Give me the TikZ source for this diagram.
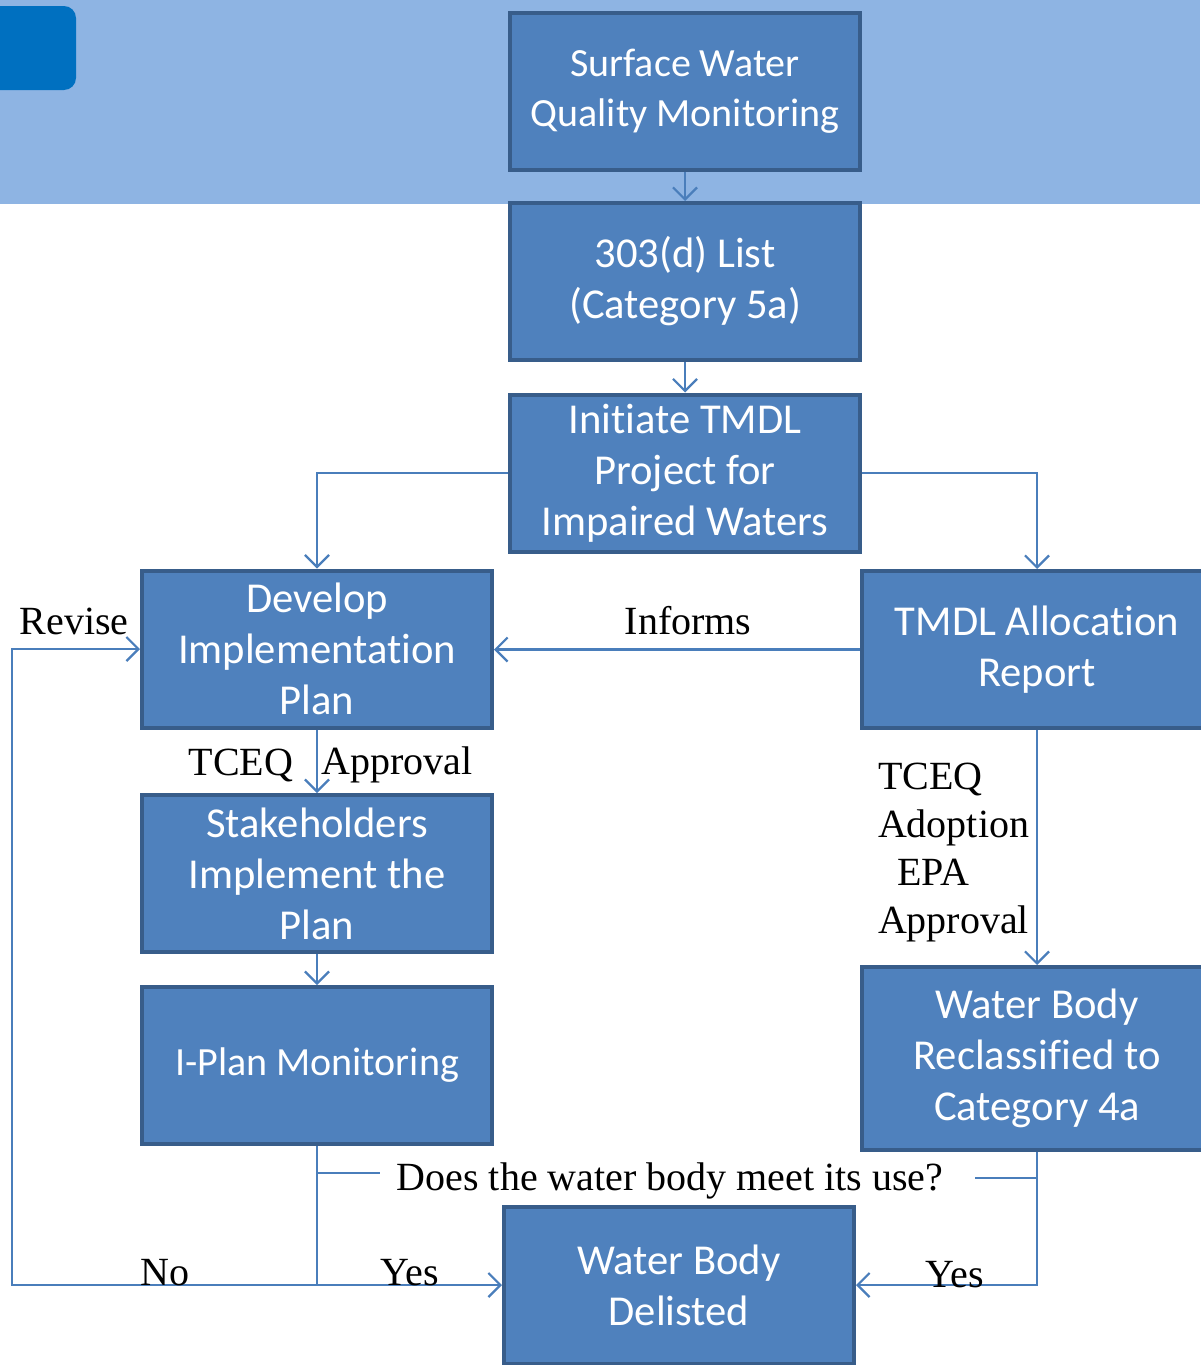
\documentclass[tikz,border=0pt]{standalone}
\usepackage{xcolor}
\usepackage{fontspec}
\setmainfont{Liberation Serif}
\newfontfamily\boxfont[Ligatures={NoCommon,NoRequired,NoContextual}]{Carlito}
\usepackage{tikz}
\usetikzlibrary{arrows.meta}

\definecolor{boxfill}{HTML}{4F81BD}
\definecolor{boxline}{HTML}{385D8A}
\definecolor{bandblue}{HTML}{8EB4E3}
\definecolor{tabblue}{HTML}{0070C0}
\definecolor{connblue}{HTML}{4A7EBB}

\begin{document}
\begin{tikzpicture}[x=1pt, y=-1pt,
                	    stage/.style = { rectangle, draw = boxline, line width = 4pt, fill = boxfill, text = white, align = center, minimum width = 350pt, minimum height = 157pt, inner sep = 0pt, font = \boxfont\fontsize{42.6}{51}\selectfont },
                	    smallstage/.style = { stage, font = \boxfont\fontsize{40}{50}\selectfont },
                		link/.style = { draw = connblue, line width = 2.2pt },
                		conn/.style = { link, -{Straight Barb[length=12pt, width=24pt, line width=2.2pt]} },
                		lbl/.style = { font = \fontsize{40}{48}\selectfont, inner sep=0pt, outer sep=0pt, yshift=-3pt },
            		]
            		    \useasboundingbox (0,0) rectangle (1200,1365);
            		    % header band
            		    \fill[bandblue] (0,0) rectangle (1200,204);
            		    \fill[tabblue, rounded corners=12pt] (-20,6) rectangle (76,90);

            		    % stages
            		    \node[smallstage] (surf) at (685,91) {Surface Water\\Quality Monitoring};
            		    \node[stage] (list) at (685,281.5) {303(d) List\\(Category 5a)};
            		    \node[stage] (init) at (685,473) {Initiate TMDL\\Project for\\Impaired Waters};
            		    \node[stage] (dev) at (317,649) {Develop\\Implementation\\Plan};
            		    \node[stage] (alloc) at (1037,649.5) {TMDL Allocation\\Report};
            		    \node[stage] (stake) at (317,873.5) {Stakeholders\\Implement the\\Plan};
            		    \node[smallstage] (imon) at (317,1065.5) {I-Plan Monitoring};
            		    \node[stage, minimum height = 183pt] (recl) at (1037,1058.5) {Water Body\\Reclassified to\\Category 4a};
            		    \node[stage] (delist) at (679,1285) {Water Body\\Delisted};

            		    % connectors
            		    \draw[conn] (surf) -- (list);
            		    \draw[conn] (list) -- (init);
            		    \draw[conn] (init.west) -| (dev.north);
            		    \draw[conn] (init.east) -| (alloc.north);
            		    \draw[conn] (alloc.west) -- (dev.east |- alloc.west);
            		    \draw[conn] (dev) -- (stake);
            		    \draw[conn] (stake) -- (imon);
            		    \draw[conn] (alloc) -- (recl);

            		    \coordinate (split) at (317,1285);
            		    \coordinate (loop) at (12,1285);
            		    \coordinate (askL) at (380,1173);
            		    \coordinate (askR) at (975,1178);
            		    \draw[link] (imon.south) -- (split);
            		    \draw[conn] (split) -- (delist.west);
            		    \draw[conn] (split) -- (loop) |- (dev.west);
            		    \draw[conn] (recl.south) |- (delist.east);
            		    \draw[link] (imon.south |- askL) -- (askL);
            		    \draw[link] (askR) -- (recl.south |- askR);

            		    % labels
            		    \node[lbl] (revise) at (74,618) {Revise};
            		    \node[lbl] (informs) at (688,618) {Informs};
            		    \node[lbl] (tceq) at (241,762) {TCEQ};
            		    \node[lbl] (approval) at (397,762) {Approval};
            		    \node[lbl, anchor=west, align=left] (adopt) at (878,850) {TCEQ\\Adoption\\\hspace*{19pt}EPA\\Approval};
            		    \node[lbl] (ask) at (670,1178) {Does the water body meet its use?};
            		    \node[lbl] (no) at (165,1270) {No};
            		    \node[lbl] (yesL) at (410,1270) {Yes};
            		    \node[lbl] (yesR) at (955,1272) {Yes};
            		\end{tikzpicture}
\end{document}
